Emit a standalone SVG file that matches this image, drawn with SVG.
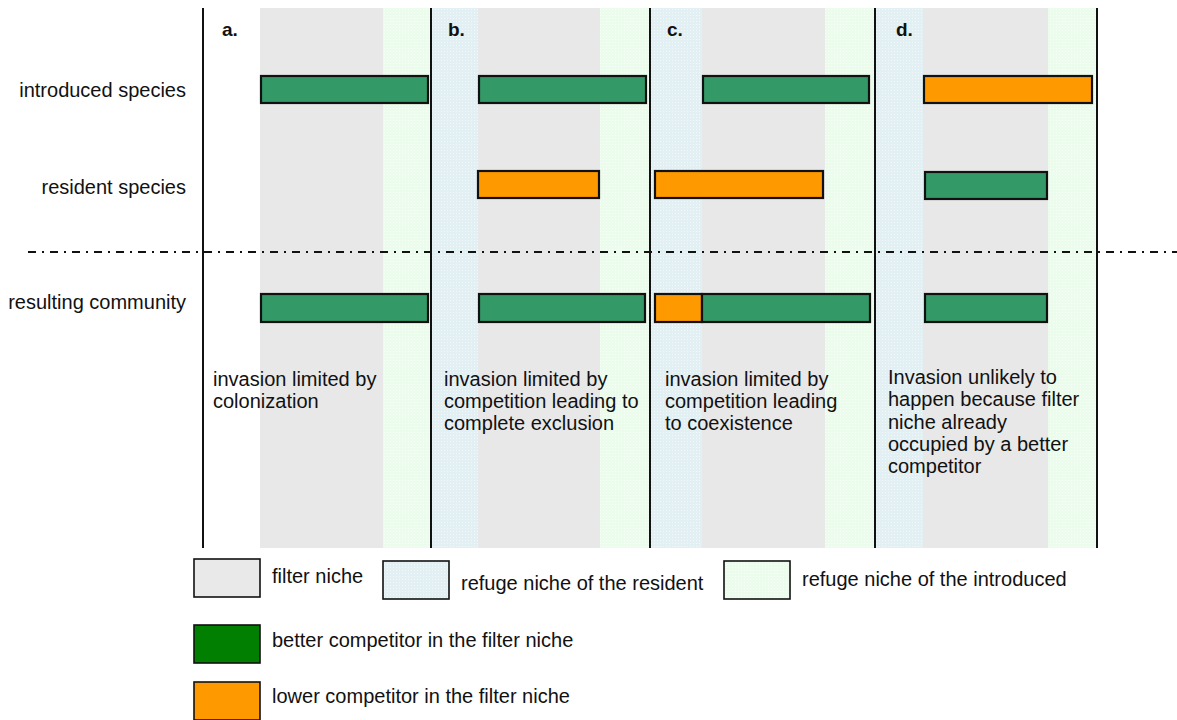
<svg xmlns="http://www.w3.org/2000/svg" width="1177" height="720" viewBox="0 0 1177 720">
<defs>
<pattern id="pBlue" width="3" height="3" patternUnits="userSpaceOnUse">
<rect width="3" height="3" fill="#e2eff3"/>
<rect width="1" height="1" fill="#f3f9fb"/>
</pattern>
<pattern id="pGreen" width="3" height="3" patternUnits="userSpaceOnUse">
<rect width="3" height="3" fill="#ecfcec"/>
<rect width="1" height="1" fill="#f8fff8"/>
</pattern>
<style>
.t{font-family:"Liberation Sans",Arial,sans-serif;font-size:20px;fill:#111}
.lb{font-family:"Liberation Sans",Arial,sans-serif;font-size:19px;font-weight:bold;fill:#111}
.gray{fill:#e8e8e8}
.blue{fill:url(#pBlue)}
.grn{fill:url(#pGreen)}
.bg{fill:#339966;stroke:#111;stroke-width:2.2}
.bo{fill:#ff9900;stroke:#111;stroke-width:2.2}
.vl{stroke:#111;stroke-width:2;fill:none}
.lg{stroke:#111;stroke-width:1.6}
</style>
</defs>
<rect width="1177" height="720" fill="#fff"/>

<g id="backgrounds">
<rect class="gray" x="260" y="8" width="123" height="540"/>
<rect class="grn" x="383" y="8" width="47" height="540"/>
<rect class="blue" x="431" y="8" width="47" height="540"/>
<rect class="gray" x="478" y="8" width="122" height="540"/>
<rect class="grn" x="600" y="8" width="50" height="540"/>
<rect class="blue" x="651" y="8" width="51" height="540"/>
<rect class="gray" x="702" y="8" width="123" height="540"/>
<rect class="grn" x="825" y="8" width="50" height="540"/>
<rect class="blue" x="876" y="8" width="47" height="540"/>
<rect class="gray" x="923" y="8" width="125" height="540"/>
<rect class="grn" x="1048" y="8" width="49" height="540"/>
</g>

<g id="connectors">
<line class="vl" x1="203" y1="8" x2="203" y2="548"/>
<line class="vl" x1="431" y1="8" x2="431" y2="548"/>
<line class="vl" x1="650" y1="8" x2="650" y2="548"/>
<line class="vl" x1="875" y1="8" x2="875" y2="548"/>
<line class="vl" x1="1097" y1="8" x2="1097" y2="548"/>
<line x1="28" y1="252" x2="1177" y2="252" stroke="#111" stroke-width="2" stroke-dasharray="8 6 2 6"/>
</g>

<g id="row-labels">
<text class="t" x="186" y="97" text-anchor="end">introduced species</text>
<text class="t" x="186" y="194" text-anchor="end">resident species</text>
<text class="t" x="186" y="309" text-anchor="end">resulting community</text>
</g>

<g id="panel-a">
<text class="lb" x="222" y="36">a.</text>
<rect class="bg" x="261" y="76" width="167" height="27"/>
<rect class="bg" x="261" y="294" width="167" height="28"/>
<text class="t" x="213" y="386">invasion limited by</text>
<text class="t" x="213" y="408">colonization</text>
</g>

<g id="panel-b">
<text class="lb" x="448" y="36">b.</text>
<rect class="bg" x="479" y="76" width="167" height="27"/>
<rect class="bo" x="478" y="171" width="121" height="27"/>
<rect class="bg" x="479" y="294" width="166" height="28"/>
<text class="t" x="444" y="386">invasion limited by</text>
<text class="t" x="444" y="408">competition leading to</text>
<text class="t" x="444" y="430">complete exclusion</text>
</g>

<g id="panel-c">
<text class="lb" x="667" y="36">c.</text>
<rect class="bg" x="703" y="76" width="166" height="27"/>
<rect class="bo" x="655" y="171" width="168" height="27"/>
<rect class="bo" x="655" y="294" width="47" height="28"/>
<rect class="bg" x="702" y="294" width="168" height="28"/>
<text class="t" x="665" y="386">invasion limited by</text>
<text class="t" x="665" y="408">competition leading</text>
<text class="t" x="665" y="430">to coexistence</text>
</g>

<g id="panel-d">
<text class="lb" x="896" y="36">d.</text>
<rect class="bo" x="924" y="76" width="168" height="27"/>
<rect class="bg" x="925" y="172" width="122" height="27"/>
<rect class="bg" x="925" y="294" width="122" height="28"/>
<text class="t" x="888" y="384">Invasion unlikely to</text>
<text class="t" x="888" y="406">happen because filter</text>
<text class="t" x="888" y="429">niche already</text>
<text class="t" x="888" y="451">occupied by a better</text>
<text class="t" x="888" y="473">competitor</text>
</g>

<g id="legend-filter">
<rect class="lg" x="194" y="559" width="66" height="38" fill="#e9e9e9"/>
<text class="t" x="272" y="583">filter niche</text>
</g>
<g id="legend-refuge-resident">
<rect class="lg" x="383" y="561" width="66" height="38" fill="url(#pBlue)"/>
<text class="t" x="461" y="590">refuge niche of the resident</text>
</g>
<g id="legend-refuge-introduced">
<rect class="lg" x="724" y="561" width="66" height="38" fill="url(#pGreen)"/>
<text class="t" x="802" y="586">refuge niche of the introduced</text>
</g>
<g id="legend-better">
<rect class="lg" x="194" y="625" width="66" height="38" fill="#007f00"/>
<text class="t" x="272" y="647">better competitor in the filter niche</text>
</g>
<g id="legend-lower">
<rect class="lg" x="194" y="682" width="66" height="38" fill="#ff9900"/>
<text class="t" x="272" y="703">lower competitor in the filter niche</text>
</g>
</svg>
